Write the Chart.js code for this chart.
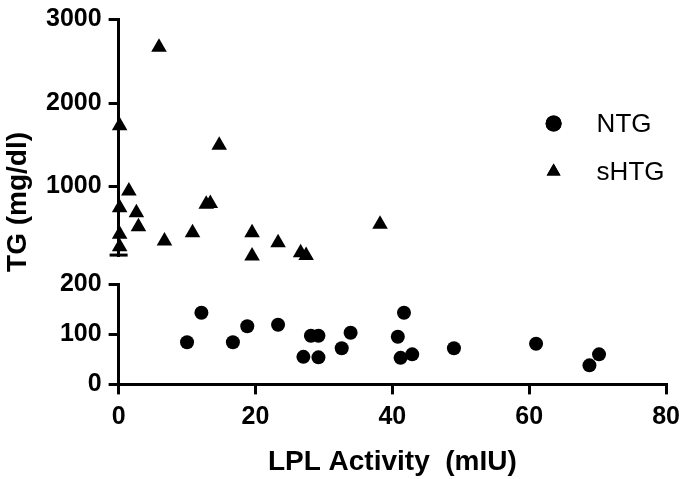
<!DOCTYPE html>
<html>
<head>
<meta charset="utf-8">
<script src="https://cdn.jsdelivr.net/npm/chart.js@4.4.1/dist/chart.umd.min.js"></script>
<style>
  html, body { margin: 0; padding: 0; background: #fff; }
  #wrap { width: 688px; height: 479px; }
</style>
</head>
<body>
<div id="wrap"><canvas id="lplChart"></canvas></div>
<script>
// NTG group (lower panel)
const ntgLpl = [10.0, 12.1, 16.7, 18.8, 23.3, 27.0, 28.1, 29.2, 29.2, 32.6, 33.9, 40.8, 41.2, 41.7, 42.9, 49.0, 61.0, 68.8, 70.2];
const ntgTg = [84, 143, 84, 116, 119, 55, 97, 97, 54, 72, 103, 95, 53, 143, 60, 72, 81, 38, 60];

// sHTG group (upper panel)
const shtgLpl = [0.15, 5.9, 14.7, 1.5, 0.15, 2.6, 2.9, 0.15, 0.15, 6.7, 10.8, 12.8, 13.4, 19.5, 19.5, 23.3, 26.6, 27.4, 38.2];
const shtgTg = [1728, 2668, 1495, 948, 748, 688, 520, 428, 280, 349, 448, 788, 796, 448, 169, 328, 208, 176, 548];

const xTicks = [0, 20, 40, 60, 80];
const lowTicks = [0, 100, 200];
const highTicks = [1000, 2000, 3000];
const lowRange = [0, 200];
const highRange = [180, 3000];

const FONT = "'Liberation Sans', Arial, sans-serif";
const toPoints = (xs, ys) => xs.map((x, i) => ({ x: x, y: ys[i] }));
const fixedTicks = (list) => (scale) => { scale.ticks = list.map(v => ({ value: v })); };

const axisLine = { color: '#000', width: 3 };
const tickMarks = { drawOnChartArea: false, color: '#000', lineWidth: 3, tickLength: 10 };
const tickFont = {
  color: '#000',
  autoSkip: false,
  font: { family: FONT, weight: 'bold', size: 25 },
  callback: (v) => String(v)
};
const yTickFont = Object.assign({}, tickFont, {
  padding: 7,
  font: { family: FONT, weight: 'bold', size: 25, lineHeight: 1 }
});

// y title and legend are drawn by hand, the break cap too
const extras = {
  id: 'extras',
  afterDraw(chart) {
    const ctx = chart.ctx;
    const area = chart.chartArea;
    const hi = chart.scales.yHigh;
    ctx.save();
    // cap at the bottom of the upper segment
    ctx.strokeStyle = '#000';
    ctx.lineWidth = 3;
    ctx.beginPath();
    ctx.moveTo(hi.right - 9, hi.bottom);
    ctx.lineTo(hi.right + 9, hi.bottom);
    ctx.stroke();

    // y axis title
    ctx.fillStyle = '#000';
    ctx.font = 'bold 28px ' + FONT;
    ctx.textAlign = 'center';
    ctx.textBaseline = 'middle';
    ctx.translate(18, (area.top + area.bottom) / 2);
    ctx.rotate(-Math.PI / 2);
    ctx.fillText('TG (mg/dl)', 0, 0);
    ctx.restore();

    // legend
    ctx.save();
    const mx = area.left + 435;
    let my = area.top + 104;
    chart.data.datasets.forEach(ds => {
      ctx.fillStyle = '#000';
      Chart.helpers.drawPoint(ctx, {
        pointStyle: ds.pointStyle, radius: 8,
        rotation: 0, borderWidth: 0
      }, mx, my);
      ctx.fill();
      ctx.font = '26px ' + FONT;
      ctx.textAlign = 'left';
      ctx.textBaseline = 'middle';
      ctx.fillText(ds.label, mx + 43, my + 1);
      my += 48;
    });
    ctx.restore();
  }
};

new Chart(document.getElementById('lplChart'), {
  type: 'scatter',
  data: {
    datasets: [
      {
        label: 'NTG',
        data: toPoints(ntgLpl, ntgTg),
        yAxisID: 'yLow',
        pointStyle: 'circle',
        pointRadius: 7,
        backgroundColor: '#000',
        borderColor: '#000',
        borderWidth: 0,
        clip: false
      },
      {
        label: 'sHTG',
        data: toPoints(shtgLpl, shtgTg),
        yAxisID: 'yHigh',
        pointStyle: 'triangle',
        pointRadius: 9,
        backgroundColor: '#000',
        borderColor: '#000',
        borderWidth: 0,
        clip: false
      }
    ]
  },
  options: {
    responsive: true,
    maintainAspectRatio: false,
    animation: false,
    layout: { padding: { left: 39, right: 19, top: 13, bottom: 0 } },
    plugins: {
      legend: { display: false },
      tooltip: { enabled: false }
    },
    scales: {
      x: {
        type: 'linear',
        position: 'bottom',
        min: 0,
        max: 80,
        afterBuildTicks: fixedTicks(xTicks),
        border: axisLine,
        grid: tickMarks,
        ticks: Object.assign({ padding: 8, maxRotation: 0 }, tickFont),
        title: {
          display: true,
          text: 'LPL Activity  (mIU)',
          color: '#000',
          font: { family: FONT, weight: 'bold', size: 28 },
          padding: { top: 5, bottom: 0 }
        }
      },
      yLow: {
        type: 'linear',
        position: 'left',
        stack: 'tg',
        stackWeight: 100,
        min: lowRange[0],
        max: lowRange[1],
        afterBuildTicks: fixedTicks(lowTicks),
        border: axisLine,
        grid: tickMarks,
        ticks: yTickFont
      },
      yGap: {
        type: 'linear',
        position: 'left',
        stack: 'tg',
        stackWeight: 29,
        border: { display: false },
        grid: { display: false },
        ticks: { display: false }
      },
      yHigh: {
        type: 'linear',
        position: 'left',
        stack: 'tg',
        stackWeight: 235,
        min: highRange[0],
        max: highRange[1],
        afterBuildTicks: fixedTicks(highTicks),
        border: axisLine,
        grid: tickMarks,
        ticks: yTickFont
      }
    }
  },
  plugins: [extras]
});
</script>
</body>
</html>
